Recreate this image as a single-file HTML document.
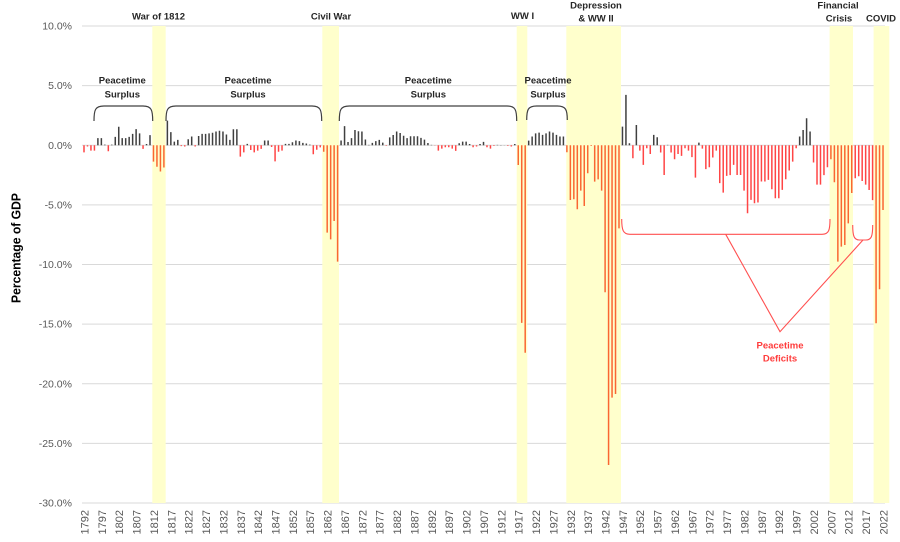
<!DOCTYPE html>
<html>
<head>
<meta charset="utf-8">
<style>
html,body{margin:0;padding:0;background:#fff;}
svg{display:block;}
text{font-family:"Liberation Sans",Arial,sans-serif;}
</style>
</head>
<body>
<svg width="900" height="542" viewBox="0 0 900 542" xmlns="http://www.w3.org/2000/svg">
<rect x="0" y="0" width="900" height="542" fill="#fff"/>
<!-- gridlines -->
<g stroke="#d9d9d9" stroke-width="1">
<line x1="82" y1="26" x2="885" y2="26"/>
<line x1="82" y1="85.6" x2="885" y2="85.6"/>
<line x1="82" y1="145.25" x2="885" y2="145.25"/>
<line x1="82" y1="204.9" x2="885" y2="204.9"/>
<line x1="82" y1="264.5" x2="885" y2="264.5"/>
<line x1="82" y1="324.1" x2="885" y2="324.1"/>
<line x1="82" y1="383.75" x2="885" y2="383.75"/>
<line x1="82" y1="443.4" x2="885" y2="443.4"/>
<line x1="82" y1="503" x2="885" y2="503"/>
</g>
<!-- shading -->
<g fill="#ffffcc">
<rect x="152.3" y="26" width="13.4" height="477"/>
<rect x="322.3" y="26" width="16.7" height="477"/>
<rect x="516.7" y="26" width="10.6" height="477"/>
<rect x="566.3" y="26" width="54.7" height="477"/>
<rect x="829.6" y="26" width="23.4" height="477"/>
<rect x="873.6" y="26" width="15.7" height="477"/>
</g>
<!-- bars -->
<g transform="translate(84,145.25) scale(3.474,-11.925)" fill="none" stroke-linecap="butt">
<path vector-effect="non-scaling-stroke" stroke="#404040" stroke-width="1.5" d="M4 0V.6M5 0V.6M6 0V.05M8 0V.05M9 0V.7M10 0V1.55M11 0V.6M12 0V.6M13 0V.7M14 0V.95M15 0V1.35M16 0V1M18 0V.1M19 0V.85M24 0V2.07M25 0V1.1M26 0V.3M27 0V.45M30 0V.5M31 0V.73M33 0V.78M34 0V.95M35 0V.95M36 0V1M37 0V1.05M38 0V1.15M39 0V1.22M40 0V1.15M41 0V.9M42 0V.45M43 0V1.34M44 0V1.34M47 0V.12M52 0V.4M53 0V.4M58 0V.12M59 0V.12M60 0V.25M61 0V.4M62 0V.35M63 0V.2M64 0V.15M65 0V.05M74 0V.4M75 0V1.6M76 0V.27M77 0V.6M78 0V1.28M79 0V1.17M80 0V1.15M81 0V.48M82 0V.03M83 0V.2M84 0V.35M85 0V.45M86 0V.22M88 0V.66M89 0V.86M90 0V1.15M91 0V1.03M92 0V.8M93 0V.6M94 0V.75M95 0V.75M96 0V.75M97 0V.62M98 0V.47M99 0V.19M100 0V.03M108 0V.17M109 0V.3M110 0V.3M111 0V.1M114 0V.1M115 0V.28M119 0V.03M120 0V.02M121 0V.01M124 0V.1M128 0V.39M129 0V.73M130 0V1M131 0V1.06M132 0V.87M133 0V1M134 0V1.15M135 0V1.06M136 0V.87M137 0V.73M138 0V.73M155 0V1.56M156 0V4.22M157 0V.17M159 0V1.7M164 0V.87M165 0V.67M168 0V.03M177 0V.22M206 0V.73M207 0V1.28M208 0V2.26M209 0V1.15"/>
<path vector-effect="non-scaling-stroke" stroke="#ff4545" stroke-width="1.5" d="M0 0V-.6M1 0V-.1M2 0V-.45M3 0V-.45M7 0V-.5M17 0V-.3M28 0V-.07M29 0V-.1M32 0V-.1M45 0V-.95M46 0V-.6M48 0V-.4M49 0V-.6M50 0V-.45M51 0V-.3M54 0V-.15M55 0V-1.35M56 0V-.55M57 0V-.45M66 0V-.75M67 0V-.38M68 0V-.18M87 0V-.04M101 0V-.02M102 0V-.45M103 0V-.28M104 0V-.17M105 0V-.17M106 0V-.28M107 0V-.47M112 0V-.17M113 0V-.1M116 0V-.17M117 0V-.28M118 0V-.05M122 0V-.05M123 0V-.1M158 0V-1.09M160 0V-.45M161 0V-1.65M162 0V-.25M163 0V-.73M166 0V-.61M167 0V-2.49M169 0V-.61M170 0V-1.17M171 0V-.73M172 0V-.89M173 0V-.25M174 0V-.45M175 0V-1M176 0V-2.71M178 0V-.28M179 0V-2M180 0V-1.84M181 0V-1.03M182 0V-.45M183 0V-3.18M184 0V-3.97M185 0V-2.57M186 0V-2.51M187 0V-1.65M188 0V-2.49M189 0V-2.49M190 0V-3.8M191 0V-5.7M192 0V-4.58M193 0V-4.86M194 0V-4.8M195 0V-3.04M196 0V-3.04M197 0V-2.9M198 0V-3.69M199 0V-4.44M200 0V-4.44M201 0V-3.74M202 0V-2.85M203 0V-2.12M204 0V-1.37M205 0V-.25M210 0V-1.45M211 0V-3.3M212 0V-3.3M213 0V-2.5M214 0V-1.84M222 0V-2.77M223 0V-2.6M224 0V-3M225 0V-3.3M226 0V-3.75M227 0V-4.6"/>
<path vector-effect="non-scaling-stroke" stroke="#fa6632" stroke-width="1.5" d="M20 0V-1.37M21 0V-1.8M22 0V-2.2M23 0V-1.87M69 0V-.54M70 0V-7.33M71 0V-7.89M72 0V-6.35M73 0V-9.76M125 0V-1.66M126 0V-14.9M127 0V-17.4M139 0V-.59M140 0V-4.59M141 0V-4.53M142 0V-5.37M143 0V-3.81M144 0V-5.09M145 0V-2.35M146 0V-.06M147 0V-3.05M148 0V-2.86M149 0V-3.81M150 0V-12.33M151 0V-26.81M152 0V-21.16M153 0V-20.86M154 0V-6.97M215 0V-1.17M216 0V-3.1M217 0V-9.76M218 0V-8.5M219 0V-8.36M220 0V-6.55M221 0V-4M228 0V-14.93M229 0V-12.08M230 0V-5.43"/>
</g>
<!-- y tick labels -->
<g font-size="10.5" fill="#595959" text-anchor="end">
<text x="72" y="29.5">10.0%</text>
<text x="72" y="89.1">5.0%</text>
<text x="72" y="148.75">0.0%</text>
<text x="72" y="208.4">-5.0%</text>
<text x="72" y="268">-10.0%</text>
<text x="72" y="327.6">-15.0%</text>
<text x="72" y="387.25">-20.0%</text>
<text x="72" y="446.9">-25.0%</text>
<text x="72" y="506.5">-30.0%</text>
</g>
<!-- y axis title -->
<text transform="translate(20.5,248) rotate(-90)" text-anchor="middle" font-size="13" font-weight="bold" fill="#000" textLength="110" lengthAdjust="spacingAndGlyphs">Percentage of GDP</text>
<!-- x labels -->
<g font-size="11" fill="#595959" text-anchor="end">
<text transform="translate(88.4,510) rotate(-90)">1792</text>
<text transform="translate(105.8,510) rotate(-90)">1797</text>
<text transform="translate(123.1,510) rotate(-90)">1802</text>
<text transform="translate(140.5,510) rotate(-90)">1807</text>
<text transform="translate(157.9,510) rotate(-90)">1812</text>
<text transform="translate(175.3,510) rotate(-90)">1817</text>
<text transform="translate(192.6,510) rotate(-90)">1822</text>
<text transform="translate(210.0,510) rotate(-90)">1827</text>
<text transform="translate(227.4,510) rotate(-90)">1832</text>
<text transform="translate(244.8,510) rotate(-90)">1837</text>
<text transform="translate(262.1,510) rotate(-90)">1842</text>
<text transform="translate(279.5,510) rotate(-90)">1847</text>
<text transform="translate(296.9,510) rotate(-90)">1852</text>
<text transform="translate(314.2,510) rotate(-90)">1857</text>
<text transform="translate(331.6,510) rotate(-90)">1862</text>
<text transform="translate(349.0,510) rotate(-90)">1867</text>
<text transform="translate(366.3,510) rotate(-90)">1872</text>
<text transform="translate(383.7,510) rotate(-90)">1877</text>
<text transform="translate(401.1,510) rotate(-90)">1882</text>
<text transform="translate(418.4,510) rotate(-90)">1887</text>
<text transform="translate(435.8,510) rotate(-90)">1892</text>
<text transform="translate(453.2,510) rotate(-90)">1897</text>
<text transform="translate(470.5,510) rotate(-90)">1902</text>
<text transform="translate(487.9,510) rotate(-90)">1907</text>
<text transform="translate(505.3,510) rotate(-90)">1912</text>
<text transform="translate(522.7,510) rotate(-90)">1917</text>
<text transform="translate(540.0,510) rotate(-90)">1922</text>
<text transform="translate(557.4,510) rotate(-90)">1927</text>
<text transform="translate(574.8,510) rotate(-90)">1932</text>
<text transform="translate(592.1,510) rotate(-90)">1937</text>
<text transform="translate(609.5,510) rotate(-90)">1942</text>
<text transform="translate(626.9,510) rotate(-90)">1947</text>
<text transform="translate(644.2,510) rotate(-90)">1952</text>
<text transform="translate(661.6,510) rotate(-90)">1957</text>
<text transform="translate(679.0,510) rotate(-90)">1962</text>
<text transform="translate(696.4,510) rotate(-90)">1967</text>
<text transform="translate(713.7,510) rotate(-90)">1972</text>
<text transform="translate(731.1,510) rotate(-90)">1977</text>
<text transform="translate(748.5,510) rotate(-90)">1982</text>
<text transform="translate(765.8,510) rotate(-90)">1987</text>
<text transform="translate(783.2,510) rotate(-90)">1992</text>
<text transform="translate(800.6,510) rotate(-90)">1997</text>
<text transform="translate(817.9,510) rotate(-90)">2002</text>
<text transform="translate(835.3,510) rotate(-90)">2007</text>
<text transform="translate(852.7,510) rotate(-90)">2012</text>
<text transform="translate(870.0,510) rotate(-90)">2017</text>
<text transform="translate(887.4,510) rotate(-90)">2022</text>
</g>
<!-- top labels -->
<g font-size="9.5" font-weight="bold" fill="#262626" text-anchor="middle">
<text x="158.5" y="19.5">War of 1812</text>
<text x="331" y="19.5">Civil War</text>
<text x="522.5" y="19">WW I</text>
<text x="596" y="8.5">Depression</text>
<text x="596" y="21.5">&amp; WW II</text>
<text x="838" y="8.5">Financial</text>
<text x="839" y="21.5">Crisis</text>
<text x="881" y="21.5">COVID</text>
<text x="122.3" y="83.5">Peacetime</text>
<text x="122.3" y="97.5">Surplus</text>
<text x="248" y="83.5">Peacetime</text>
<text x="248" y="97.5">Surplus</text>
<text x="428.3" y="83.5">Peacetime</text>
<text x="428.3" y="97.5">Surplus</text>
<text x="548" y="83.5">Peacetime</text>
<text x="548" y="97.5">Surplus</text>
</g>
<!-- surplus brackets -->
<g fill="none" stroke="#404040" stroke-width="1.2">
<path d="M94 121C94 110 95 106 104 106H143C151.5 106 152.7 110 152.7 121"/>
<path d="M166 121C166 110 167 106 176 106H312C320.5 106 321.7 110 321.7 121"/>
<path d="M339.3 121C339.3 110 340.3 106 349.3 106H507C515.5 106 516.7 110 516.7 121"/>
<path d="M526.7 120C526.7 110 527.7 106 536.7 106H557.3C566 106 567.3 110 567.3 120"/>
</g>
<!-- deficit annotation -->
<g fill="none" stroke="#ff5050" stroke-width="1.1">
<path d="M621.7 219C621.7 230 623 234.3 630 234.3H822C829 234.3 830 230 830 219"/>
<path d="M852.7 225C852.7 236 854 240 859.5 240H866C871.5 240 872.7 236 872.7 225"/>
<path d="M725.7 234.3L780 331.7L863 240"/>
</g>
<g font-size="9.5" font-weight="bold" fill="#ff3b3b" text-anchor="middle">
<text x="780" y="348.5">Peacetime</text>
<text x="780" y="361.5">Deficits</text>
</g>
</svg>
</body>
</html>
